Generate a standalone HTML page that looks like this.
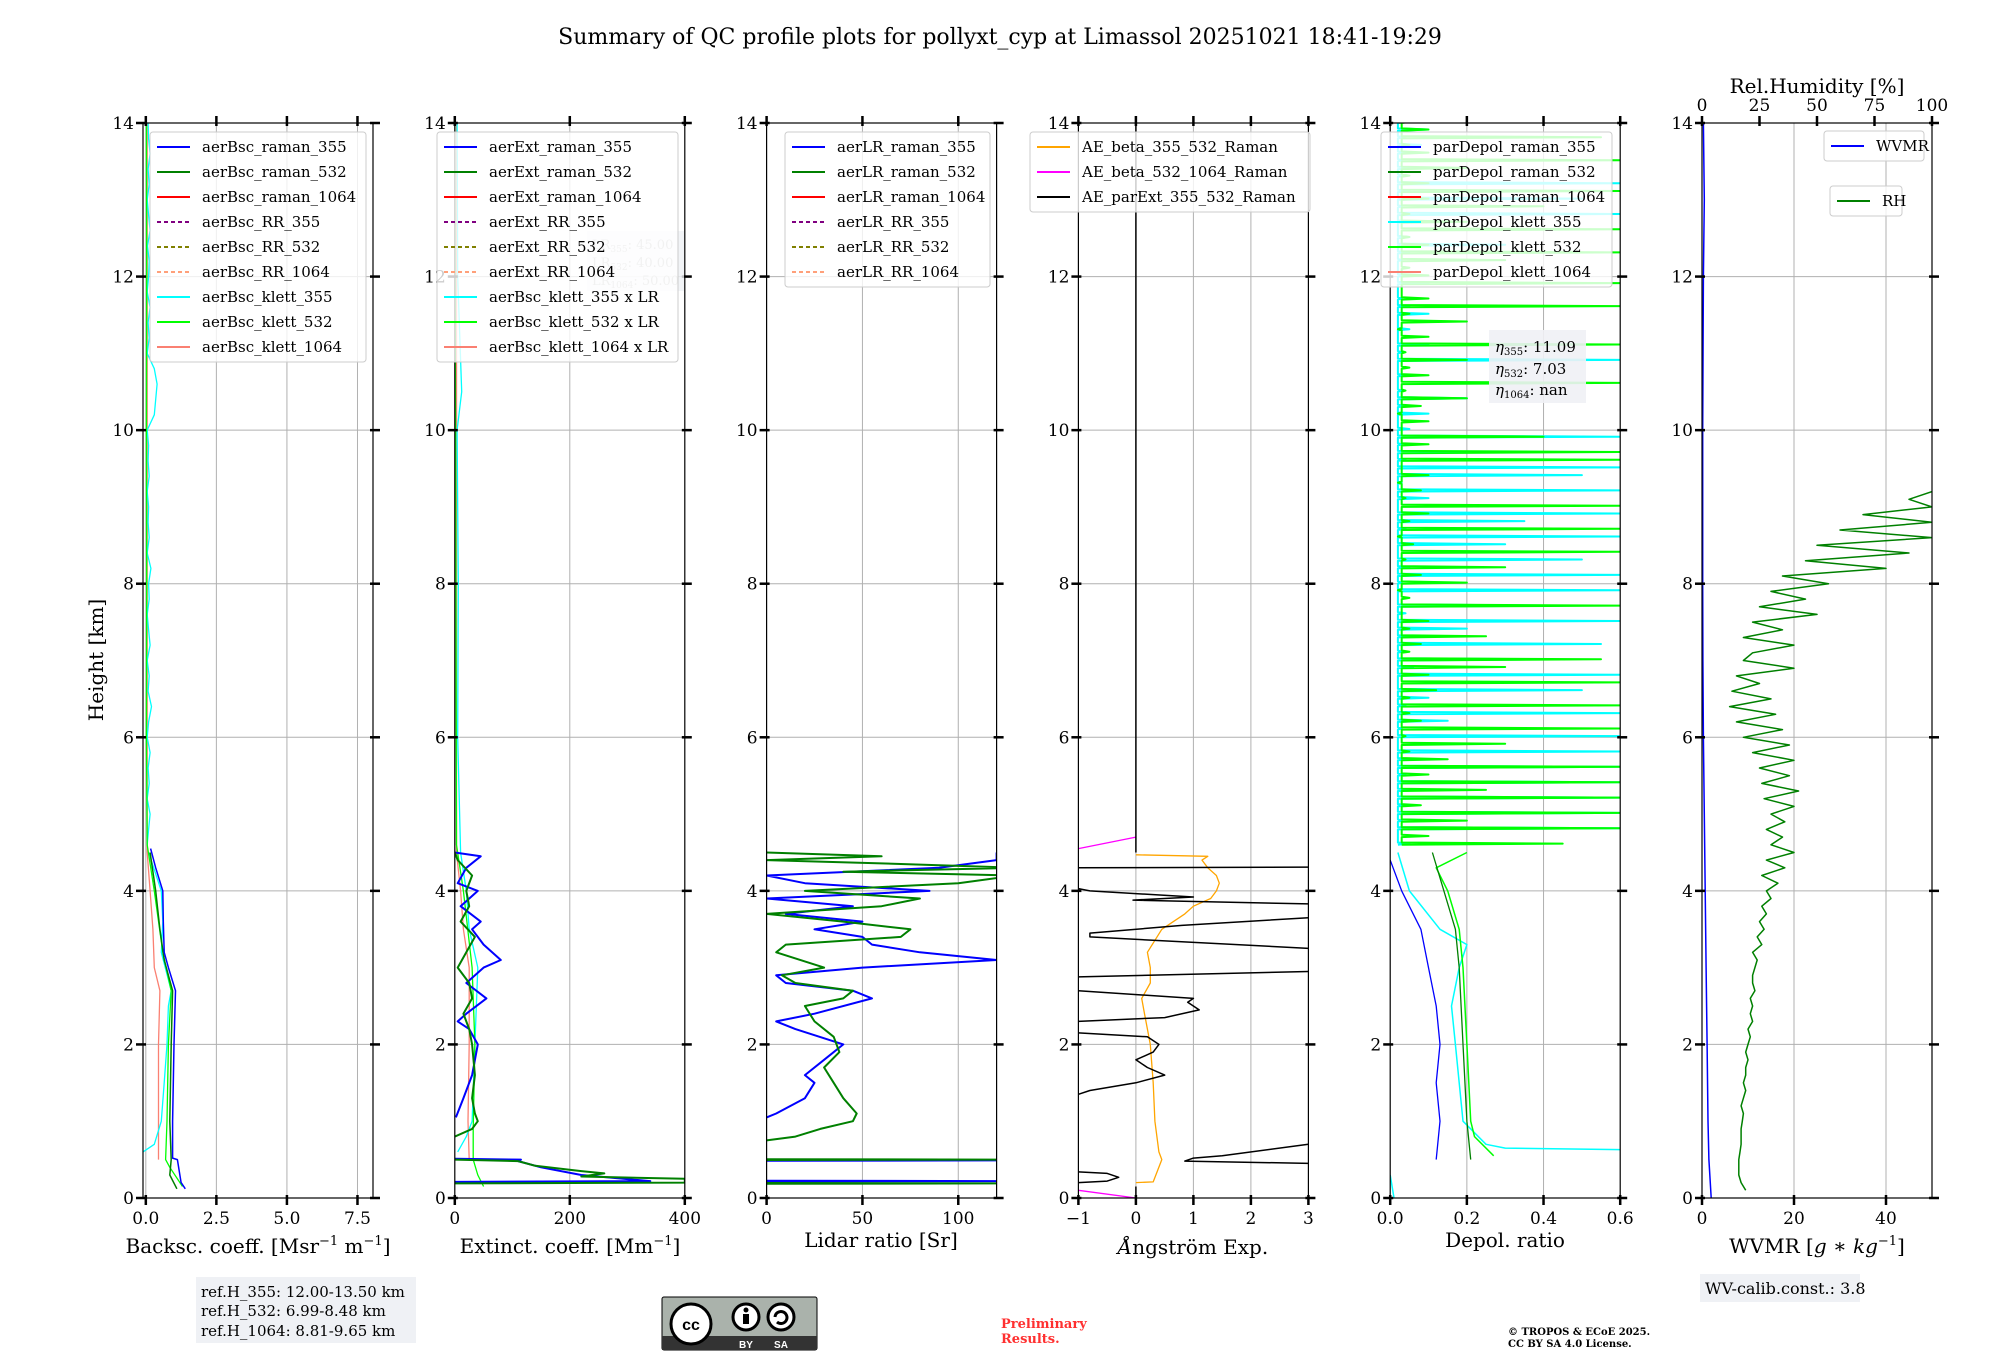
<!DOCTYPE html>
<html><head><meta charset="utf-8"><style>
html,body{margin:0;padding:0;background:#fff;}
svg{display:block;font-family:"DejaVu Serif","Liberation Serif",serif;}
</style></head><body>
<svg id="fig" width="2000" height="1360" viewBox="0 0 2000 1360" xmlns="http://www.w3.org/2000/svg">
<text x="1000" y="44" text-anchor="middle" font-size="22">Summary of QC profile plots for pollyxt_cyp at Limassol 20251021 18:41-19:29</text>
<text transform="translate(103,660) rotate(-90)" text-anchor="middle" font-size="20">Height [km]</text>
<g id="panels"></g>
<g>
<rect x="196" y="1277" width="220" height="66" fill="#eff1f5"/>
<text x="201" y="1297" font-size="15">ref.H_355: 12.00-13.50 km</text>
<text x="201" y="1316" font-size="15">ref.H_532: 6.99-8.48 km</text>
<text x="201" y="1336" font-size="15">ref.H_1064: 8.81-9.65 km</text>
</g>
<g>
<rect x="662" y="1297" width="155" height="53" rx="2" fill="#aab2ab" stroke="#000" stroke-width="1"/>
<rect x="662" y="1336" width="155" height="14" fill="#333"/>
<circle cx="691" cy="1324" r="20" fill="#fff" stroke="#000" stroke-width="3"/>
<text x="691" y="1330" text-anchor="middle" font-size="16" font-weight="bold" font-family="Liberation Sans,sans-serif">cc</text>
<circle cx="746" cy="1317" r="13" fill="#fff" stroke="#000" stroke-width="3"/>
<circle cx="746" cy="1310" r="2.5" fill="#000"/><rect x="743" y="1314" width="6" height="10" fill="#000"/>
<circle cx="781" cy="1317" r="13" fill="#fff" stroke="#000" stroke-width="3"/>
<path d="M775 1317 a6 6 0 1 1 2 5" fill="none" stroke="#000" stroke-width="3"/>
<text x="746" y="1348" text-anchor="middle" font-size="10" fill="#fff" font-family="Liberation Sans,sans-serif" font-weight="bold">BY</text>
<text x="781" y="1348" text-anchor="middle" font-size="10" fill="#fff" font-family="Liberation Sans,sans-serif" font-weight="bold">SA</text>
</g>
<text x="1001" y="1328" font-size="13" font-weight="bold" fill="#ff3030">Preliminary</text>
<text x="1001" y="1343" font-size="13" font-weight="bold" fill="#ff3030">Results.</text>
<text x="1508" y="1335" font-size="10" font-weight="bold">© TROPOS &amp; ECoE 2025.</text>
<text x="1508" y="1347" font-size="10" font-weight="bold">CC BY SA 4.0 License.</text>
<g>
<rect x="1700" y="1274" width="160" height="28" fill="#eff1f5"/>
<text x="1705" y="1294" font-size="16">WV-calib.const.: 3.8</text>
</g>
</svg>
<script>
// ---------- data ----------
const yTicks=[0,2,4,6,8,10,12,14];
const xTicks=[[0,2.5,5,7.5],[0,200,400],[0,50,100],[-1,0,1,2,3],[0,0.2,0.4,0.6],[0,20,40]];
const xTickLabels=[["0.0","2.5","5.0","7.5"],["0","200","400"],["0","50","100"],["−1","0","1","2","3"],["0.0","0.2","0.4","0.6"],["0","20","40"]];
const rhTicks=[0,25,50,75,100];
const xlims=[[-0.1,8.05],[0,400],[0,120],[-1,3],[0,0.6],[0,50]];

// panel 1 backscatter
const bsc355H=[0.12,0.2,0.5,0.52,1,2,2.7,3.0,3.2,3.6,4.0,4.3,4.55];
const bsc355V=[1.4,1.25,1.12,0.95,0.95,1.0,1.05,0.8,0.65,0.62,0.6,0.35,0.17];
const bsc532H=[0.12,0.3,0.5,1,2,2.7,3.1,3.5,4,4.5];
const bsc532V=[1.1,0.85,0.9,0.85,0.9,0.95,0.65,0.5,0.35,0.15];
const bscK532H=[0.15,0.4,0.5,1,2,2.7,3.2,4,4.6,6,8,10,12,14];
const bscK532V=[1.3,0.85,0.7,0.75,0.8,0.9,0.6,0.3,0.05,0.02,0.03,0.02,0.03,0.02];
const bscK355H=[0.6,0.7,1.0,1.5,2,2.5,2.7,3.2,3.6,4,4.5];
const bscK355V=[-0.1,0.3,0.55,0.65,0.75,0.8,0.9,0.55,0.6,0.55,0.1];
const bscK355Up=[0.05,0.1,0.15,0.05,0.12,0.08,0.15,0.05,0.1,0.2,0.08,0.12,0.05,0.15,0.1,0.05,0.12,0.1,0.18,0.05,0.12,0.08,0.1,0.05,0.12,0.08,0.1,0.05,0.3,0.35,0.4,0.3,0.05,0.12,0.08,0.15,0.05,0.1,0.12,0.06,0.15,0.1,0.05,0.12,0.08,0.15,0.1,0.08];
const bscK1064H=[0.5,1.0,2,2.7,3.0,3.5,4,4.5,14];
const bscK1064V=[0.45,0.45,0.45,0.5,0.3,0.25,0.15,0.05,0.05];

// panel 2 extinction
const ext355H=[0.21,0.22,0.3,0.4,0.48,0.5,0.51,NaN,1.05,1.3,1.6,2.0,2.2,2.3,2.4,2.6,2.8,3.0,3.1,3.3,3.5,3.6,3.8,4.0,4.1,4.3,4.45,4.5];
const ext355V=[0,340,220,150,110,115,0,NaN,2,15,30,40,25,5,20,55,20,50,80,50,30,45,10,40,5,20,45,0];
const ext532H=[0.19,0.2,0.25,0.28,0.32,0.35,0.42,0.48,0.5,NaN,0.8,0.9,1.0,1.1,1.3,1.6,2,2.2,2.4,2.6,2.8,3.0,3.2,3.4,3.6,3.8,4.0,4.2,4.4,4.5];
const ext532V=[0,400,400,220,260,220,140,110,0,NaN,0,30,40,35,30,35,30,25,15,30,25,5,20,35,10,25,20,30,5,0];
const extK532H=[0.15,0.3,0.5,0.9,2,3,4,4.6,14];
const extK532V=[50,40,32,32,35,30,15,3,0];
const extK355H=[0.6,0.8,1,2,3,3.5,4,4.5,6,8,10,10.5,12,14];
const extK355V=[5,20,30,35,40,25,20,10,5,6,4,12,5,4];
const extK1064H=[0.5,1,2,3,3.5,4,4.5,14];
const extK1064V=[25,23,25,25,15,10,3,3];

// panel 3 lidar ratio
const lr355H=[0.215,0.22,0.225,NaN,0.485,0.49,0.495,NaN,1.05,1.1,1.3,1.5,1.6,1.8,2.0,2.2,2.3,2.4,2.6,2.7,2.8,2.9,3.0,3.1,3.2,3.3,3.4,3.5,3.6,3.7,3.8,3.9,4.0,4.1,4.2,4.3,4.4,4.5];
const lr355V=[0,130,0,NaN,0,130,0,NaN,0,5,20,25,20,30,40,15,5,25,55,45,10,5,50,120,80,55,50,25,50,10,45,0,85,20,0,90,120,120];
const lr532H=[0.185,0.19,0.195,NaN,0.495,0.5,0.505,NaN,0.75,0.8,0.9,1.0,1.1,1.3,1.5,1.7,1.9,2.1,2.3,2.5,2.6,2.7,2.8,2.9,3.0,3.2,3.3,3.4,3.5,3.6,3.7,3.8,3.9,4.0,4.1,4.2,4.25,4.3,4.35,4.4,4.45,4.5];
const lr532V=[0,130,0,NaN,0,130,0,NaN,0,15,28,45,47,40,35,30,38,35,25,20,40,45,15,8,30,5,10,70,75,40,0,60,80,20,100,130,40,130,70,0,60,0];

// panel 4 angstrom
const aeBetaH=[0.2,0.21,0.5,0.6,1.0,1.5,2.0,2.4,2.6,2.8,3.0,3.2,3.5,3.7,3.8,3.9,4.0,4.1,4.2,4.3,4.4,4.45,4.47];
const aeBetaV=[0,0.3,0.45,0.4,0.33,0.3,0.25,0.15,0.1,0.25,0.25,0.2,0.45,0.85,1.0,1.3,1.4,1.45,1.4,1.25,1.15,1.25,0];
const ae1064H=[0,0.1,NaN,4.55,4.7];
const ae1064V=[0,-1,NaN,-1,0];
const aeExtH=[0,0.15,NaN,0.2,0.22,0.27,0.32,0.34,NaN,0.45,0.48,0.52,0.55,0.7,NaN,1.35,1.4,1.5,1.6,1.7,1.8,1.9,2.0,2.1,2.15,NaN,2.3,2.35,2.45,2.55,2.6,2.7,NaN,2.88,2.95,NaN,3.25,3.4,3.45,3.55,3.65,NaN,3.83,3.88,3.92,4.0,4.03,NaN,4.3,4.31,NaN,4.5,14];
const aeExtV=[0,0,NaN,-1,-0.5,-0.3,-0.5,-1,NaN,3,0.85,1.0,1.5,3,NaN,-1,-0.8,0,0.5,0.2,0,0.3,0.4,0.2,-1,NaN,-1,0.5,1.1,0.9,1.0,-1,NaN,-1,3,NaN,3,-0.8,-0.8,0.8,3,NaN,3,-0.05,1.0,-0.8,-1,NaN,-1,3,NaN,0,0];

// panel 5 depolarization
const dep355H=[0.5,1.0,1.5,2.0,2.5,3.0,3.5,4.0,4.4];
const dep355V=[0.12,0.13,0.12,0.13,0.12,0.1,0.08,0.03,0.0];
const dep532H=[0.5,1,2,3,3.5,4,4.5];
const dep532V=[0.21,0.2,0.19,0.18,0.17,0.14,0.11];
const depK532H=[0.55,0.8,1,2,3,3.5,4,4.3,4.5];
const depK532V=[0.27,0.22,0.21,0.2,0.19,0.18,0.15,0.12,0.2];
const depK355H=[0,0.3,NaN,0.63,0.65,0.7,1.0,1.5,2.0,2.5,3.0,3.3,3.5,4.0,4.5];
const depK355V=[0.01,0,NaN,0.6,0.3,0.25,0.19,0.18,0.17,0.16,0.18,0.2,0.13,0.05,0.02];
const depK532Up=[0.45,0.1,0.6,0.2,0.6,0.08,0.6,0.25,0.6,0.1,0.6,0.15,0.05,0.3,0.04,0.6,0.08,0.05,0.6,0.05,0.12,0.6,0.1,0.3,0.55,0.05,0.08,0.25,0.05,0.1,0.03,0.6,0.05,0.02,0.2,0.08,0.3,0.04,0.6,0.06,0.02,0.6,0.05,0.1,0.6,0.04,0.08,0.02,0.1,0.03,0.6,0.6,0.1,0.4,0.03,0.1,0.02,0.08,0.2,0.04,0.6,0.1,0.05,0.2,0.04,0.6,0.1,0.02,0.2,0.05,0.6,0.1,0.03,0.6,0.1,0.05,0.3,0.6,0.1,0.05,0.6,0.2,0.05,0.4,0.1,0.6,0.1,0.05,0.2,0.6,0.1,0.05,0.55,0.1,0.05];
const depK355Up=[0.05,0.02,0.6,0.03,0.6,0.05,0.6,0.1,0.6,0.04,0.6,0.05,0.6,0.02,0.6,0.03,0.15,0.6,0.04,0.1,0.5,0.02,0.6,0.06,0.4,0.03,0.55,0.05,0.2,0.6,0.04,0.45,0.02,0.6,0.03,0.6,0.05,0.5,0.02,0.3,0.6,0.04,0.35,0.6,0.02,0.1,0.6,0.03,0.5,0.6,0.04,0.2,0.03,0.6,0.05,0.02,0.1,0.04,0.2,0.03,0.02,0.05,0.02,0.6,0.03,0.1,0.02,0.05,0.02,0.1,0.05,0.03,0.02,0.1,0.05,0.02,0.03,0.05,0.3,0.05,0.02,0.1,0.6,0.03,0.5,0.05,0.6,0.04,0.1,0.03,0.05,0.08,0.04,0.1,0.05];

// panel 6 water vapour
const wvH=[0,0.5,1,2,3,4,5,6,7,8,10,12,13,14];
const wvV=[2,1.5,1.3,1.1,0.9,0.7,0.5,0.3,0.2,0.15,0.15,0.3,0.5,0.3];
const rhV=[19,17,16,16,16,16.5,17,17,17,17.5,18,17,18,19,18,19,19,20,19,20,21,20,22,21,22,21,23,22,22,23,24,22,26,24,27,25,28,26,30,28,33,26,36,28,40,30,35,28,36,30,40,27,42,26,38,25,40,22,38,18,35,15,32,12,30,13,25,15,40,18,22,40,18,35,22,50,25,45,30,55,35,80,45,90,50,100,60,100,70,100,90,100];

// ---------- drawing ----------
const NS="http://www.w3.org/2000/svg";
const fig=document.getElementById('panels');
const PL=[143,454.8,766.6,1078.4,1390.2,1702],PW=230,T=123,B=1198;
function Y(h){return B-(h/14)*(B-T);}
function X(p,v){const l=xlims[p];return PL[p]+(v-l[0])/(l[1]-l[0])*PW;}
function XR(v){return PL[5]+v/100*PW;}
function el(tag,attrs,parent){const e=document.createElementNS(NS,tag);for(const k in attrs)e.setAttribute(k,attrs[k]);(parent||fig).appendChild(e);return e;}
const defs=el('defs',{});
for(let p=0;p<6;p++){const c=el('clipPath',{id:'clip'+p},defs);el('rect',{x:PL[p],y:T,width:PW,height:B-T},c);}

function series(p,hs,vs,color,w,name,xf){
  const g=el('g',{'clip-path':'url(#clip'+p+')'});
  
  
  let pts=[];
  const flush=()=>{if(pts.length>1)el('polyline',{points:pts.join(' '),fill:'none',stroke:color,'stroke-width':w,'stroke-linejoin':'round'},g);pts=[];};
  for(let i=0;i<hs.length;i++){
    if(isNaN(hs[i])||isNaN(vs[i])){flush();continue;}
    const x=xf?xf(vs[i]):X(p,vs[i]);
    pts.push(x.toFixed(1)+','+Y(hs[i]).toFixed(1));
  }
  flush();
}
function spikes(p,start,step,vals,base,color,w,name){
  const hs=[],vs=[];
  for(let i=0;i<vals.length;i++){const h=start+i*step;hs.push(h,h+0.015,h+0.03);vs.push(base,vals[i],base);}
  series(p,hs,vs,color,w,name);
}

for(let p=0;p<6;p++){
  const g=el('g',{});
  
  
  xTicks[p].forEach(v=>{if(v>xlims[p][0]&&v<xlims[p][1])el('line',{x1:X(p,v),x2:X(p,v),y1:T,y2:B,stroke:'#b0b0b0','stroke-width':1},g);});
  yTicks.forEach(h=>{if(h>0&&h<14)el('line',{x1:PL[p],x2:PL[p]+PW,y1:Y(h),y2:Y(h),stroke:'#b0b0b0','stroke-width':1},g);});
}
const tick=(x1,y1,x2,y2)=>el('line',{x1,y1,x2,y2,stroke:'#000','stroke-width':2.5});

series(0,bscK1064H,bscK1064V,'#fa8072',1.3,'klett-1064-backscatter-line');
series(0,bscK355H,bscK355V,'#00ffff',1.3,'klett-355-backscatter-line');
{const hs=[],vs=[];for(let i=0;i<bscK355Up.length;i++){hs.push(4.6+i*0.2);vs.push(bscK355Up[i]);}series(0,hs,vs,'#00ffff',1.3,'klett-355-backscatter-upper-line');}
series(0,bscK532H,bscK532V,'#00ff00',1.3,'klett-532-backscatter-line');
series(0,bsc532H,bsc532V,'#008000',1.5,'raman-532-backscatter-line');
series(0,bsc355H,bsc355V,'#0000ff',1.5,'raman-355-backscatter-line');

series(1,extK1064H,extK1064V,'#fa8072',1.3,'klett-1064-extinction-line');
series(1,extK355H,extK355V,'#00ffff',1.3,'klett-355-extinction-line');
series(1,extK532H,extK532V,'#00ff00',1.3,'klett-532-extinction-line');
series(1,ext355H,ext355V,'#0000ff',2,'raman-355-extinction-line');
series(1,ext532H,ext532V,'#008000',2,'raman-532-extinction-line');

series(2,lr355H,lr355V,'#0000ff',2,'raman-355-lidar-ratio-line');
series(2,lr532H,lr532V,'#008000',2,'raman-532-lidar-ratio-line');

series(3,aeBetaH,aeBetaV,'#ffa500',1.3,'ae-beta-355-532-line');
series(3,ae1064H,ae1064V,'#ff00ff',1.3,'ae-beta-532-1064-line');
series(3,aeExtH,aeExtV,'#000000',1.5,'ae-parext-355-532-line');

spikes(4,4.6,0.1,depK355Up,0.02,'#00ffff',2,'klett-355-depol-upper-line');
spikes(4,4.6,0.1,depK532Up,0.03,'#00ff00',2,'klett-532-depol-upper-line');
series(4,depK355H,depK355V,'#00ffff',1.5,'klett-355-depol-line');
series(4,depK532H,depK532V,'#00ff00',1.5,'klett-532-depol-line');
series(4,dep532H,dep532V,'#008000',1.3,'raman-532-depol-line');
series(4,dep355H,dep355V,'#0000ff',1.3,'raman-355-depol-line');

series(5,wvH,wvV,'#0000ff',1.5,'wvmr-line');
{const hs=[];for(let i=0;i<rhV.length;i++)hs.push(0.1+i*0.1);series(5,hs,rhV,'#008000',1.5,'rh-line',XR);}

for(let p=0;p<6;p++){
  const g=el('g',{});
  
  
  el('rect',{x:PL[p],y:T,width:PW,height:B-T,fill:'none',stroke:'#000','stroke-width':1.2},g);
  yTicks.forEach(h=>{
    tick(PL[p]-7,Y(h),PL[p]+3,Y(h));tick(PL[p]+PW-3,Y(h),PL[p]+PW+7,Y(h));
    const t=el('text',{x:PL[p]-9,y:Y(h)+6,'text-anchor':'end','font-size':17});
    t.textContent=h;
  });
  xTicks[p].forEach((v,i)=>{
    const x=X(p,v);
    tick(x,B-3,x,B+7);
    if(p<5) tick(x,T-7,x,T+3);
    const t=el('text',{x:x,y:B+26,'text-anchor':'middle','font-size':17});
    t.textContent=xTickLabels[p][i];
  });
}
rhTicks.forEach(v=>{tick(XR(v),T-7,XR(v),T+3);const t=el('text',{x:XR(v),y:T-12,'text-anchor':'middle','font-size':17});t.textContent=v;});
{const t=el('text',{x:XR(50),y:T-30,'text-anchor':'middle','font-size':20});t.textContent='Rel.Humidity [%]';
}

const xl=document.createElementNS(NS,'g');fig.appendChild(xl);
xl.innerHTML=
'<text x="258" y="1253" text-anchor="middle" font-size="20">Backsc. coeff. [Msr<tspan font-size="13" dy="-8">−1</tspan><tspan dy="8"> m</tspan><tspan font-size="13" dy="-8">−1</tspan><tspan dy="8">]</tspan></text>'+
'<text x="570" y="1253" text-anchor="middle" font-size="20">Extinct. coeff. [Mm<tspan font-size="13" dy="-8">−1</tspan><tspan dy="8">]</tspan></text>'+
'<text x="881" y="1247" text-anchor="middle" font-size="20">Lidar ratio [Sr]</text>'+
'<text x="1193" y="1254" text-anchor="middle" font-size="20"><tspan font-style="italic">Å</tspan>ngström Exp.</text>'+
'<text x="1505" y="1247" text-anchor="middle" font-size="20">Depol. ratio</text>'+
'<text x="1817" y="1253" text-anchor="middle" font-size="20">WVMR [<tspan font-style="italic">g</tspan> ∗ <tspan font-style="italic">kg</tspan><tspan font-size="13" dy="-8">−1</tspan><tspan dy="8">]</tspan></text>';

const lrb=document.createElementNS(NS,'g');fig.appendChild(lrb);
lrb.innerHTML='<g><rect x="587" y="231" width="97" height="60" fill="#eff1f5" opacity="0.8"/>'+
'<text x="592" y="249" font-size="13" fill="#bbb">LR<tspan font-size="9" dy="3">355</tspan><tspan dy="-3">: 45.00</tspan></text>'+
'<text x="592" y="267" font-size="13" fill="#bbb">LR<tspan font-size="9" dy="3">532</tspan><tspan dy="-3">: 40.00</tspan></text>'+
'<text x="592" y="285" font-size="13" fill="#bbb">LR<tspan font-size="9" dy="3">1064</tspan><tspan dy="-3">: 50.00</tspan></text></g>';

function legend(x,y,w,items,name){
  const g=el('g',{});
  
  
  el('rect',{x:x,y:y,width:w,height:items.length*25+5,rx:3,fill:'#fff','fill-opacity':0.8,stroke:'#ccc','stroke-width':1},g);
  items.forEach((it,i)=>{
    const cy=y+15+i*25;
    const ln=el('line',{x1:x+7,x2:x+40,y1:cy,y2:cy,stroke:it[1],'stroke-width':2},g);
    if(it[2])ln.setAttribute('stroke-dasharray','4,3');
    const t=el('text',{x:x+52,y:cy+5,'font-size':15},g);
    t.textContent=it[0];
  });
}
legend(150,132,216,[['aerBsc_raman_355','#0000ff'],['aerBsc_raman_532','#008000'],['aerBsc_raman_1064','#ff0000'],['aerBsc_RR_355','#800080',1],['aerBsc_RR_532','#808000',1],['aerBsc_RR_1064','#ffa07a',1],['aerBsc_klett_355','#00ffff'],['aerBsc_klett_532','#00ff00'],['aerBsc_klett_1064','#fa8072']],'legend-backscatter');
legend(437,132,241,[['aerExt_raman_355','#0000ff'],['aerExt_raman_532','#008000'],['aerExt_raman_1064','#ff0000'],['aerExt_RR_355','#800080',1],['aerExt_RR_532','#808000',1],['aerExt_RR_1064','#ffa07a',1],['aerBsc_klett_355 x LR','#00ffff'],['aerBsc_klett_532 x LR','#00ff00'],['aerBsc_klett_1064 x LR','#fa8072']],'legend-extinction');
legend(785,132,205,[['aerLR_raman_355','#0000ff'],['aerLR_raman_532','#008000'],['aerLR_raman_1064','#ff0000'],['aerLR_RR_355','#800080',1],['aerLR_RR_532','#808000',1],['aerLR_RR_1064','#ffa07a',1]],'legend-lidar-ratio');
legend(1030,132,280,[['AE_beta_355_532_Raman','#ffa500'],['AE_beta_532_1064_Raman','#ff00ff'],['AE_parExt_355_532_Raman','#000000']],'legend-angstrom');
legend(1381,132,231,[['parDepol_raman_355','#0000ff'],['parDepol_raman_532','#008000'],['parDepol_raman_1064','#ff0000'],['parDepol_klett_355','#00ffff'],['parDepol_klett_532','#00ff00'],['parDepol_klett_1064','#fa8072']],'legend-depol');
legend(1824,131,100,[['WVMR','#0000ff']],'legend-wvmr');
legend(1830,186,72,[['RH','#008000']],'legend-rh');

const eb=document.createElementNS(NS,'g');fig.appendChild(eb);
eb.innerHTML='<g><rect x="1489" y="330" width="97" height="73" fill="#eff1f5" opacity="0.9"/>'+
'<text x="1495" y="352" font-size="15"><tspan font-style="italic">η</tspan><tspan font-size="10" dy="3">355</tspan><tspan dy="-3">: 11.09</tspan></text>'+
'<text x="1495" y="374" font-size="15"><tspan font-style="italic">η</tspan><tspan font-size="10" dy="3">532</tspan><tspan dy="-3">: 7.03</tspan></text>'+
'<text x="1495" y="395" font-size="15"><tspan font-style="italic">η</tspan><tspan font-size="10" dy="3">1064</tspan><tspan dy="-3">: nan</tspan></text></g>';
</script>
</body></html>
